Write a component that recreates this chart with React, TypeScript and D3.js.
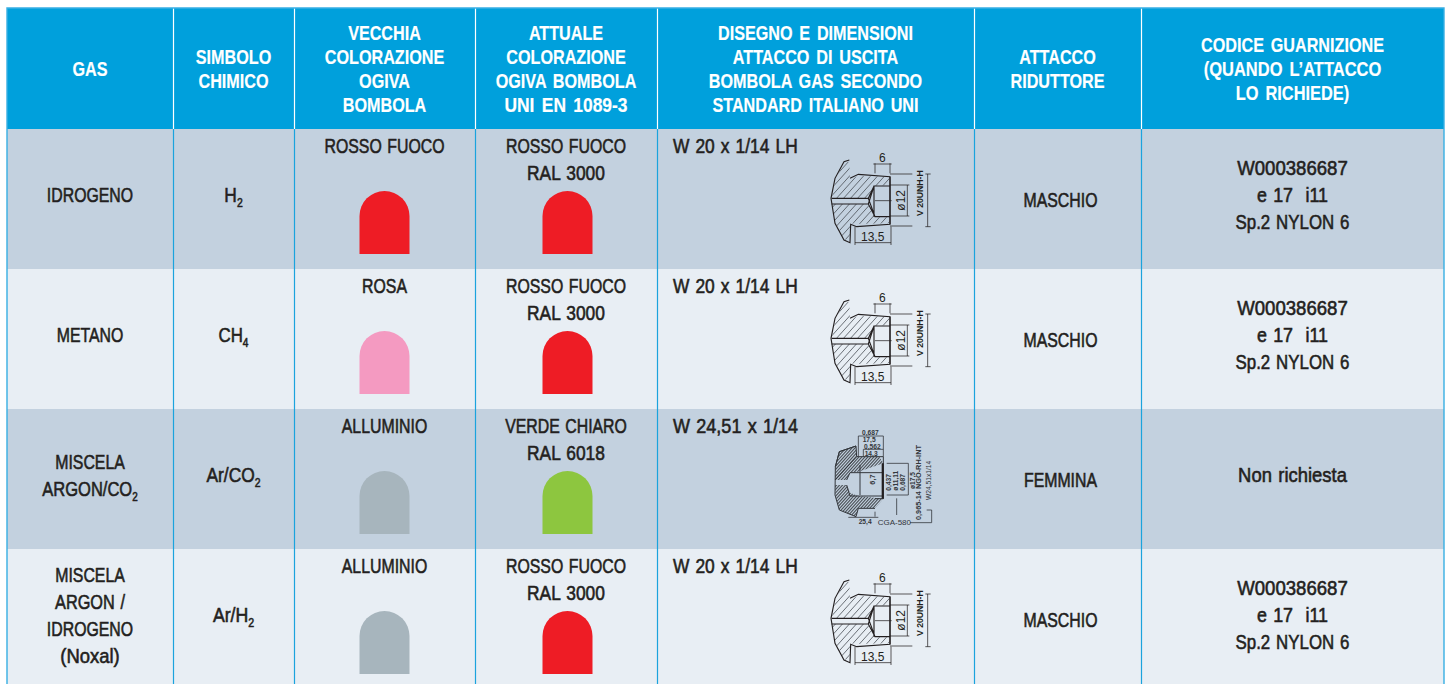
import React from "react";
import * as d3 from "d3";

// table content
const columnKeys = ["gas", "symbol", "old", "current", "drawing", "fitting", "code"];
const columnWidths = [166, 121, 181, 182, 317, 167, 303];

const headerLines = [
  ["GAS"],
  ["SIMBOLO", "CHIMICO"],
  ["VECCHIA", "COLORAZIONE", "OGIVA", "BOMBOLA"],
  ["ATTUALE", "COLORAZIONE", "OGIVA BOMBOLA", "UNI EN 1089-3"],
  ["DISEGNO E DIMENSIONI", "ATTACCO DI USCITA", "BOMBOLA GAS SECONDO", "STANDARD ITALIANO UNI"],
  ["ATTACCO", "RIDUTTORE"],
  ["CODICE GUARNIZIONE", "(QUANDO L’ATTACCO", "LO RICHIEDE)"],
];

const gasNames = [["IDROGENO"], ["METANO"], ["MISCELA", "ARGON/CO_2"], ["MISCELA", "ARGON /", "IDROGENO", "(Noxal)"]];
const symbols = ["H_2", "CH_4", "Ar/CO_2", "Ar/H_2"];
const oldColorNames = ["ROSSO FUOCO", "ROSA", "ALLUMINIO", "ALLUMINIO"];
const oldColors = ["#ee1c25", "#f49ac1", "#a7b5bd", "#a7b5bd"];
const currentColorNames = [
  ["ROSSO FUOCO", "RAL 3000"],
  ["ROSSO FUOCO", "RAL 3000"],
  ["VERDE CHIARO", "RAL 6018"],
  ["ROSSO FUOCO", "RAL 3000"],
];
const currentColors = ["#ee1c25", "#ee1c25", "#8dc63f", "#ee1c25"];
const threads = ["W 20 x 1/14 LH", "W 20 x 1/14 LH", "W 24,51 x 1/14", "W 20 x 1/14 LH"];
const drawingTypes = ["w20", "w20", "w24", "w20"];
const fittings = ["MASCHIO", "MASCHIO", "FEMMINA", "MASCHIO"];
const codes = [
  ["W000386687", "e 17  i11", "Sp.2 NYLON 6"],
  ["W000386687", "e 17  i11", "Sp.2 NYLON 6"],
  ["Non richiesta"],
  ["W000386687", "e 17  i11", "Sp.2 NYLON 6"],
];

const WIDTH = 1451;
const HEIGHT = 684;
const LEFT = 7;
const TOP = 8;
const HEADER_BOTTOM = 129;
const ROW_HEIGHT = 140;
const LINE_STEP = 24;
const BODY_STEP = 27;

const HEADER_BG = "#00a0dc";
const ROW_DARK = "#c3d1df";
const ROW_LIGHT = "#e8eef4";
const RULE = "#1ba3dd";
const INK = "#231f20";
// no narrow face installed, so the text gets squeezed horizontally
const FONT = "'Liberation Sans', sans-serif";

const edges = d3.cumsum([LEFT, ...columnWidths]);
const xEdge = (i: number) => edges[i];
const xCenter = d3
  .scaleOrdinal<string, number>()
  .domain(columnKeys)
  .range(columnKeys.map((_, i) => (edges[i] + edges[i + 1]) / 2));

const yRow = d3
  .scaleBand<number>()
  .domain(d3.range(4))
  .range([HEADER_BOTTOM, HEADER_BOTTOM + ROW_HEIGHT * 4]);

// ogive shape, width 50 height 63, arc on top
const ogive = () => {
  const p = d3.path();
  p.moveTo(-25, 63);
  p.lineTo(-25, 25);
  p.arc(0, 25, 25, Math.PI, 0);
  p.lineTo(25, 63);
  p.closePath();
  return p.toString();
};

// capitals squeeze more than digits and lowercase in the original face
const squeeze = (text: string, bold: boolean) => {
  const chars = Array.from(text.replace("_", ""));
  const upper = chars.filter((c) => /[A-Z ]/.test(c)).length;
  const base = bold ? 0.77 : 0.755;
  return (upper * base + (chars.length - upper) * 0.9) / chars.length;
};

const Label = ({ x, y, text, size = 21, anchor = "middle", fill = INK, bold = false }: any) => {
  const [main, sub] = text.split("_");
  return (
    <text
      transform={`translate(${x},${y}) scale(${squeeze(text, bold)},1)`}
      textAnchor={anchor}
      fill={fill}
      fontFamily={FONT}
      fontSize={size}
      fontWeight={bold ? 700 : 400}
      stroke={bold ? "#fff" : fill}
      strokeWidth={bold ? 0.2 : 0.6}
      wordSpacing={bold ? 3 : 1.5}
      style={{ whiteSpace: "pre" }}
    >
      {main}
      {sub && (
        <tspan dy={5} fontSize={size * 0.6}>
          {sub}
        </tspan>
      )}
    </text>
  );
};

// drawing for the W 20 outlet, coordinates are in the 3x zoomed crop
const hatchLines = (x0: number, x1: number, y0: number, y1: number, step: number) =>
  d3.range(x0, x1, step).map((x) => `M${x},${y1}L${x + (y1 - y0) * 0.9},${y0}`).join("");

const DrawingW20 = ({ x, y, id }: any) => {
  const line = d3.line();
  const outer: [number, number][] = [
    [568, 90], [552, 95], [525, 145], [513, 205], [525, 280], [552, 330], [570, 338], [572, 283],
    [590, 290], [690, 283], [690, 140], [595, 133], [570, 145],
  ];
  const upper: [number, number][] = [
    [515, 205], [625, 205], [642, 168], [688, 165], [688, 140], [595, 138], [570, 148], [568, 95], [552, 98], [527, 148],
  ];
  const lower: [number, number][] = [
    [515, 222], [625, 222], [645, 262], [688, 262], [688, 280], [590, 282], [572, 280], [568, 333], [552, 327], [527, 278],
  ];
  return (
    <g transform={`translate(${x},${y}) scale(${1 / 3})`} fill="none" stroke={INK} strokeWidth={3.4}>
      <clipPath id={id + "a"}>
        <path d={line(upper)!} />
      </clipPath>
      <clipPath id={id + "b"}>
        <path d={line(lower)!} />
      </clipPath>
      <g strokeWidth={2.4} stroke="#4a4f55">
        <path clipPath={`url(#${id}a)`} d={hatchLines(420, 700, 85, 210, 21)} />
        <path clipPath={`url(#${id}b)`} d={hatchLines(420, 700, 215, 340, 21)} />
      </g>
      <path d={line(outer)!} />
      <path d="M515,205H625L642,168H690M515,222H625L645,260H690M642,168V260M690,140V283M625,205L645,260M625,222L642,168" />
      <path strokeWidth={2.2} d="M645,130V100M690,130V100M640,102H695M690,132H757M690,288H757M803,132V290M796,132H812M796,290H812M690,165H748M690,258H748M742,165V258M585,290V345M693,290V345M585,338H693M645,212H695" />
      <g fill={INK} stroke="none" fontFamily="'Liberation Sans', sans-serif" fontSize={36}>
        <text x={657} y={96}>6</text>
        <text x={603} y={334}>13,5</text>
        <text transform="translate(736,242) rotate(-90)">ø12</text>
        <text transform="translate(788,258) rotate(-90)" fontSize={26} fontWeight={700}>V 20UNH-H</text>
      </g>
    </g>
  );
};

// drawing for the W 24,51 outlet, same idea as above
const DrawingW24 = ({ x, y, id }: any) => {
  const line = d3.line();
  const upper: [number, number][] = [
    [105, 180], [140, 180], [150, 158], [175, 155], [250, 130], [238, 110], [170, 110], [168, 78], [118, 95], [106, 140],
  ];
  const lower: [number, number][] = [
    [105, 195], [140, 195], [150, 218], [175, 228], [250, 236], [225, 265], [175, 265], [168, 290], [118, 270], [106, 225],
  ];
  return (
    <g transform={`translate(${x},${y}) scale(${1 / 3})`} fill="none" stroke="#33373c" strokeWidth={3}>
      <clipPath id={id + "a"}>
        <path d={line(upper)!} />
      </clipPath>
      <clipPath id={id + "b"}>
        <path d={line(lower)!} />
      </clipPath>
      <g stroke="#4d5359" strokeWidth={3.4}>
        <path clipPath={`url(#${id}a)`} d={hatchLines(20, 260, 75, 185, 9)} />
        <path clipPath={`url(#${id}b)`} d={hatchLines(20, 260, 190, 295, 9)} />
      </g>
      <path d={line(upper.slice(0, 1).concat(upper.slice(6)))!} />
      <path d="M168,78L118,95L106,140L105,225L118,270L168,290L175,265H225M170,110H250V236H225M250,130V236M180,135V225M140,180L150,158H248M140,195L150,228H248" />
      <path stroke={INK} strokeWidth={6} d="M248,130V236" />
      <path strokeWidth={2.4} d="M175,110V48H250V110M190,110V88H250M260,130H325V225H260M225,290V275M145,292H235M330,308H395V270H380M290,235V285" />
      <g fill="#33373c" stroke="none" fontFamily="'Liberation Sans', sans-serif" fontWeight={700} fontSize={20}>
        <text x={186} y={44}>0,687</text>
        <text x={188} y={66}>17,5</text>
        <text x={192} y={86}>0,562</text>
        <text x={194} y={108}>14,3</text>
        <text x={176} y={312}>25,4</text>
        <text x={233} y={316} fontSize={24} fontWeight={400}>CGA-580</text>
        <text transform="translate(224,194) rotate(-90)" fontSize={22}>6,7</text>
        <text transform="translate(274,212) rotate(-90)">0,437</text>
        <text transform="translate(295,212) rotate(-90)">ø11,11</text>
        <text transform="translate(316,212) rotate(-90)">0,687</text>
        <text transform="translate(345,207) rotate(-90)">ø17,5</text>
        <text transform="translate(362,300) rotate(-90)" fontSize={22}>0,965-14 NGO-RH-INT</text>
        <text transform="translate(392,240) rotate(-90)" fontWeight={400}>W24,51x1/14</text>
      </g>
    </g>
  );
};

export default function App() {
  const right = edges[edges.length - 1];
  return (
    <svg
      width={WIDTH}
      height={HEIGHT}
      viewBox={`0 0 ${WIDTH} ${HEIGHT}`}
      style={{ position: "absolute", left: 0, top: 0, background: "#fff" }}
    >
      <rect x={LEFT} y={TOP} width={right - LEFT} height={HEADER_BOTTOM - TOP} fill={HEADER_BG} />
      {d3.range(4).map((r) => (
        <rect
          key={r}
          x={LEFT}
          y={yRow(r)}
          width={right - LEFT}
          height={yRow.bandwidth()}
          fill={r % 2 === 0 ? ROW_DARK : ROW_LIGHT}
        />
      ))}

      {/* column rules: white in the header, blue in the body */}
      {d3.range(1, columnKeys.length).map((i) => (
        <g key={i}>
          <line x1={xEdge(i) + 0.5} x2={xEdge(i) + 0.5} y1={TOP} y2={HEADER_BOTTOM} stroke="#fff" strokeWidth={1.2} />
          <line x1={xEdge(i) + 0.5} x2={xEdge(i) + 0.5} y1={HEADER_BOTTOM} y2={HEIGHT} stroke={RULE} strokeWidth={1.2} />
        </g>
      ))}
      <path
        d={`M${LEFT},${HEIGHT}V${TOP}H${right}V${HEIGHT}`}
        fill="none"
        stroke="#38afe3"
        strokeWidth={1.4}
      />

      {/* header */}
      {headerLines.map((lines, c) =>
        lines.map((t, i) => (
          <Label
            key={t}
            x={xCenter(columnKeys[c])}
            y={76 + (i - (lines.length - 1) / 2) * LINE_STEP}
            text={t}
            fill="#fff"
            bold
          />
        ))
      )}

      {d3.range(4).map((r) => {
        const top = yRow(r)!;
        return (
          <g key={r}>
            {gasNames[r].map((t, i) => (
              <Label
                key={i}
                x={xCenter("gas")}
                y={top + 66 + (i - (gasNames[r].length - 1) / 2) * BODY_STEP + 7}
                text={t}
              />
            ))}
            <Label x={xCenter("symbol")} y={top + 73} text={symbols[r]} />

            <Label x={xCenter("old")} y={top + 24} text={oldColorNames[r]} />
            <path transform={`translate(${xCenter("old")},${top + 62})`} d={ogive()} fill={oldColors[r]} />

            {currentColorNames[r].map((t, i) => (
              <Label key={i} x={xCenter("current")} y={top + 24 + i * BODY_STEP} text={t} />
            ))}
            <path transform={`translate(${xCenter("current") + 1.5},${top + 62})`} d={ogive()} fill={currentColors[r]} />

            <Label x={xEdge(4) + 16} y={top + 24} text={threads[r]} anchor="start" />
            {drawingTypes[r] === "w20" ? (
              <DrawingW20 x={660} y={top + 1} id={`d${r}`} />
            ) : (
              <DrawingW24 x={800} y={top + 11} id={`d${r}`} />
            )}

            <Label x={xCenter("fitting") + 3} y={top + 78} text={fittings[r]} />
            {codes[r].map((t, i) => (
              <Label
                key={i}
                x={xCenter("code")}
                y={top + 73 + (i - (codes[r].length - 1) / 2) * BODY_STEP}
                text={t}
              />
            ))}
          </g>
        );
      })}
    </svg>
  );
}
